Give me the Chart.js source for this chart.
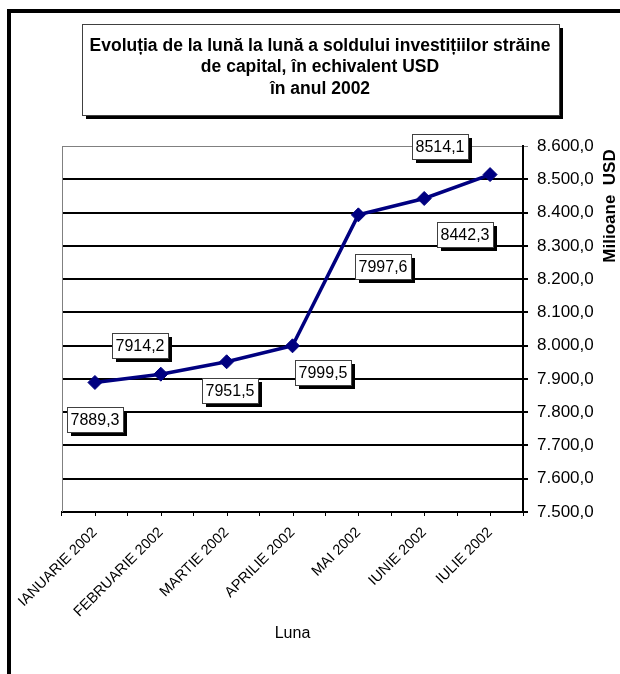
<!DOCTYPE html>
<html>
<head>
<meta charset="utf-8">
<script src="https://cdn.jsdelivr.net/npm/chart.js@4.4.1/dist/chart.umd.min.js"></script>
<style>
  html, body { margin: 0; padding: 0; background: #fff; }
  #wrap { position: relative; width: 620px; height: 674px; }
  canvas { display: block; }
</style>
</head>
<body>
<div id="wrap"><canvas id="c" width="620" height="674"></canvas></div>
<script>
// ---- data ----
const months = ['IANUARIE 2002', 'FEBRUARIE 2002', 'MARTIE 2002', 'APRILIE 2002', 'MAI 2002', 'IUNIE 2002', 'IULIE 2002'];
const values = [7889.3, 7914.2, 7951.5, 7999.5, 8393.0, 8442.3, 8514.1];
const pointLabels = ['7889,3', '7914,2', '7951,5', '7999,5', '7997,6', '8442,3', '8514,1'];
const titleLines = ['Evoluția de la lună la lună a soldului investițiilor străine', 'de capital, în echivalent USD', 'în anul 2002'];
const yAxisTitle = 'Milioane  USD';
const xAxisTitle = 'Luna';
const yMin = 7500, yMax = 8600, yStep = 100;

const FONT = '"Liberation Sans", Arial, sans-serif';
Chart.defaults.color = '#000';
Chart.defaults.font.family = FONT;

function fmt(v) {
  const s = v.toFixed(1).split('.');
  const int = s[0].replace(/\B(?=(\d{3})+(?!\d))/g, '.');
  return int + ',' + s[1];
}

const decorPlugin = {
  id: 'decor',
  beforeDraw(chart) {
    const ctx = chart.ctx;
    ctx.save();
    ctx.fillStyle = '#fff';
    ctx.fillRect(0, 0, chart.width, chart.height);
    // outer frame (top + left)
    ctx.fillStyle = '#000';
    ctx.fillRect(7, 9, 613, 4);
    ctx.fillRect(7, 9, 4, 665);
    ctx.restore();
  },
  afterDraw(chart) {
    const ctx = chart.ctx;
    const ca = chart.chartArea;
    const xs = chart.scales.x;
    ctx.save();
    // left plot border (gray)
    ctx.strokeStyle = '#808080';
    ctx.lineWidth = 1;
    ctx.beginPath();
    ctx.moveTo(ca.left + 0.5, ca.top);
    ctx.lineTo(ca.left + 0.5, ca.bottom);
    ctx.stroke();
    // tick marks at category centers
    ctx.strokeStyle = '#000';
    ctx.beginPath();
    for (let i = 0; i < months.length; i++) {
      const x = Math.round(xs.getPixelForValue(i)) + 0.5;
      ctx.moveTo(x, ca.bottom);
      ctx.lineTo(x, ca.bottom + 4);
    }
    ctx.stroke();

    // title box
    const bx = 82, by = 24, bw = 477, bh = 91;
    ctx.fillStyle = '#000';
    ctx.fillRect(bx + 4, by + 4, bw, bh);
    ctx.fillStyle = '#fff';
    ctx.fillRect(bx, by, bw, bh);
    ctx.strokeStyle = '#404040';
    ctx.lineWidth = 1;
    ctx.strokeRect(bx + 0.5, by + 0.5, bw, bh);
    ctx.fillStyle = '#000';
    ctx.font = 'bold 17.5px ' + FONT;
    ctx.textAlign = 'center';
    ctx.textBaseline = 'middle';
    const tyc = [46, 67.5, 89];
    titleLines.forEach((t, i) => ctx.fillText(t, 320, tyc[i]));

    // y axis title, rotated
    ctx.save();
    ctx.translate(610, 206);
    ctx.rotate(-Math.PI / 2);
    ctx.font = 'bold 17px ' + FONT;
    ctx.fillText(yAxisTitle, 0, 0);
    ctx.restore();
    ctx.restore();
  },
  afterDatasetsDraw(chart, args, opts) {
    const ctx = chart.ctx;
    const meta = chart.getDatasetMeta(0);
    ctx.save();
    ctx.font = '16px ' + FONT;
    ctx.textAlign = 'center';
    ctx.textBaseline = 'middle';
    meta.data.forEach((pt, i) => {
      const off = opts.offsets[i];
      const cx = pt.x + off[0], cy = pt.y + off[1];
      const text = pointLabels[i];
      const w = Math.round(ctx.measureText(text).width + 7);
      const h = 25;
      const x0 = Math.round(cx - w / 2), y0 = Math.round(cy - h / 2);
      ctx.fillStyle = '#000';
      ctx.fillRect(x0 + 4, y0 + 4, w, h);
      ctx.fillStyle = '#fff';
      ctx.fillRect(x0, y0, w, h);
      ctx.strokeStyle = '#404040';
      ctx.lineWidth = 1;
      ctx.strokeRect(x0 + 0.5, y0 + 0.5, w, h);
      ctx.fillStyle = '#000';
      ctx.fillText(text, x0 + w / 2, y0 + h / 2 + 1);
    });
    ctx.restore();
  }
};

new Chart(document.getElementById('c'), {
  type: 'line',
  data: {
    labels: months,
    datasets: [{
      data: values,
      borderColor: '#000080',
      borderWidth: 3.5,
      backgroundColor: '#000080',
      pointStyle: 'rectRot',
      pointRadius: 7,
      pointBackgroundColor: '#000080',
      pointBorderColor: '#000080',
      pointBorderWidth: 1,
      tension: 0,
      fill: false
    }]
  },
  options: {
    responsive: false,
    animation: false,
    devicePixelRatio: 1,
    layout: { padding: { left: 62, top: 146, right: 0, bottom: 24 } },
    plugins: {
      legend: { display: false },
      tooltip: { enabled: false },
      title: { display: false },
      decor: {
        offsets: [[0, 37], [-21, -29], [3, 29], [30, 27], [25, 52], [41, 36], [-50, -28]]
      }
    },
    scales: {
      x: {
        type: 'category',
        offset: true,
        grid: { display: true, drawOnChartArea: false, drawTicks: true, tickLength: 4, offset: true, color: '#000', lineWidth: 1 },
        border: { display: true, color: '#000', width: 2 },
        ticks: { minRotation: 45, maxRotation: 45, autoSkip: false, padding: 8, font: { size: 14.5 }, color: '#000' },
        title: { display: true, text: xAxisTitle, font: { size: 16 }, color: '#000', padding: { top: 0, bottom: 7 } },
        afterFit(scale) { scale.height = 674 - 24 - 512; scale.paddingLeft = 0; scale.paddingRight = 0; }
      },
      y: {
        position: 'right',
        min: yMin,
        max: yMax,
        ticks: { stepSize: yStep, padding: 9, font: { size: 17 }, color: '#000', callback: (v) => fmt(v) },
        grid: {
          drawTicks: true,
          tickLength: 5,
          color: (c) => (c.tick && c.tick.value === yMax ? '#808080' : '#000'),
          lineWidth: (c) => (c.tick && c.tick.value === yMax ? 1 : 2)
        },
        border: { display: true, color: '#000', width: 2 },
        afterFit(scale) { scale.width = 620 - 523; scale.paddingTop = 0; scale.paddingBottom = 0; }
      }
    }
  },
  plugins: [decorPlugin]
});
</script>
</body>
</html>
